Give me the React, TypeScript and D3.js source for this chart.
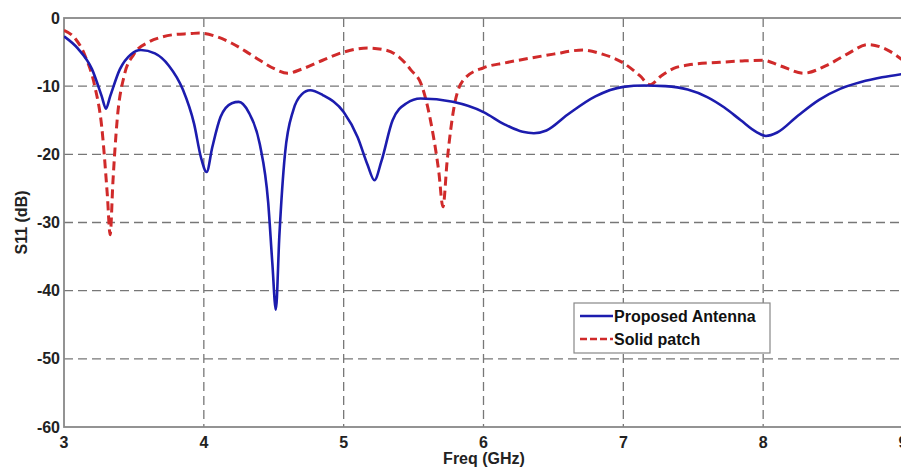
import { useEffect, useRef } from 'react'
import * as d3 from 'd3'

// Proposed antenna: frequency (GHz) and S11 (dB)
const propFreq = [
  3.0, 3.1, 3.2, 3.27, 3.3, 3.33, 3.4, 3.48, 3.55, 3.65, 3.75, 3.85, 3.93, 3.98, 4.02, 4.06,
  4.12, 4.2, 4.25, 4.32, 4.4, 4.46, 4.49, 4.515, 4.54, 4.58, 4.64, 4.7, 4.76, 4.85, 5.0, 5.1,
  5.17, 5.22, 5.27, 5.35, 5.45, 5.55, 5.78, 6.0, 6.15, 6.28, 6.36, 6.45, 6.6, 6.8, 7.0, 7.15,
  7.3, 7.46, 7.6, 7.72, 7.84, 7.95, 8.02, 8.1, 8.25, 8.4, 8.55, 8.7, 8.85, 9.0,
]
const propS11 = [
  -2.7, -4.5, -7.5, -11.5, -13.3, -11.5, -7.5, -5.3, -4.7, -5.2, -7.0, -10.5, -15.5, -20.5,
  -22.6, -19, -14.5, -12.5, -12.3, -13.8, -18.5, -27, -36, -42.8, -32, -20, -13.5, -11.2,
  -10.6, -11.3, -13.8, -17.5, -21.5, -23.8, -21, -15, -12.5, -11.8, -12.3, -13.8, -15.6,
  -16.7, -16.9, -16.5, -14.2, -11.5, -10.1, -9.9, -10.0, -10.5, -11.6, -13.1, -15.0, -16.7,
  -17.3, -16.8, -14.3, -12, -10.4, -9.4, -8.7, -8.2,
]

// Solid patch: frequency (GHz) and S11 (dB)
const solidFreq = [
  3.0, 3.08, 3.15, 3.22, 3.27, 3.31, 3.33, 3.35, 3.38, 3.43, 3.5, 3.6, 3.7, 3.8, 3.9, 3.97,
  4.1, 4.2, 4.3, 4.4, 4.5, 4.6, 4.7, 4.85, 5.0, 5.17, 5.3, 5.4, 5.48, 5.56, 5.63, 5.68, 5.71,
  5.74, 5.79, 5.86, 6.0, 6.15, 6.33, 6.5, 6.71, 6.85, 7.0, 7.12, 7.19, 7.27, 7.36, 7.46, 7.69,
  7.85, 8.0, 8.12, 8.29, 8.45, 8.6, 8.75, 8.88, 9.0,
]
const solidS11 = [
  -1.8, -3, -5.5, -10, -16, -26, -31.8, -24, -15, -8.5, -5.3, -3.6, -2.8, -2.4, -2.3, -2.2,
  -2.8, -3.7, -4.9, -6.2, -7.4, -8.1, -7.5, -6.2, -5.0, -4.4, -4.7, -5.8, -7.6, -10, -16,
  -22.5, -27.7, -21, -13, -9, -7.3, -6.6, -5.9, -5.3, -4.7, -5.3, -6.6, -8.5, -9.8, -8.5,
  -7.4, -6.9, -6.5, -6.3, -6.2, -7.0, -8.1, -7.0, -5.3, -3.9, -4.6, -6.2,
]

const xTicks = [3, 4, 5, 6, 7, 8, 9]
const yTicks = [0, -10, -20, -30, -40, -50, -60]
const legendLabels = ['Proposed Antenna', 'Solid patch']

const W = 901
const H = 470
const FONT = '"Liberation Sans", Arial, sans-serif'
const BLUE = '#1c1cae'
const RED = '#d02a2a'

export default function App() {
  const ref = useRef<SVGSVGElement | null>(null)

  useEffect(() => {
    if (!ref.current) return
    const svg = d3.select(ref.current)
    svg.selectAll('*').remove()

    const left = 64
    const top = 18
    const right = 903
    const bottom = 427

    const x = d3.scaleLinear().domain([3, 9]).range([left, right])
    const y = d3.scaleLinear().domain([-60, 0]).range([bottom, top])

    svg.append('rect').attr('width', W).attr('height', H).attr('fill', '#fff')

    svg
      .append('clipPath')
      .attr('id', 'plot-clip')
      .append('rect')
      .attr('x', left)
      .attr('y', top)
      .attr('width', right - left)
      .attr('height', bottom - top)

    // grid
    const grid = svg.append('g').attr('stroke', '#777').attr('stroke-width', 1.3).attr('stroke-dasharray', '9,5')
    grid
      .selectAll('line.gx')
      .data(xTicks.slice(1, -1))
      .join('line')
      .attr('x1', (d) => x(d))
      .attr('x2', (d) => x(d))
      .attr('y1', top)
      .attr('y2', bottom)
    grid
      .selectAll('line.gy')
      .data(yTicks.slice(1, -1))
      .join('line')
      .attr('x1', left)
      .attr('x2', right)
      .attr('y1', (d) => y(d))
      .attr('y2', (d) => y(d))

    // frame
    svg
      .append('rect')
      .attr('x', left)
      .attr('y', top)
      .attr('width', right - left)
      .attr('height', bottom - top)
      .attr('fill', 'none')
      .attr('stroke', '#888')
      .attr('stroke-width', 1.8)

    // tick labels
    svg
      .append('g')
      .selectAll('text')
      .data(yTicks)
      .join('text')
      .attr('x', left - 4)
      .attr('y', (d) => y(d))
      .attr('dy', '0.35em')
      .attr('text-anchor', 'end')
      .style('font', `bold 16px ${FONT}`)
      .attr('fill', '#222')
      .text((d) => d)
    svg
      .append('g')
      .selectAll('text')
      .data(xTicks)
      .join('text')
      .attr('x', (d) => x(d))
      .attr('y', bottom + 21)
      .attr('text-anchor', 'middle')
      .style('font', `bold 16px ${FONT}`)
      .attr('fill', '#222')
      .text((d) => d)

    svg
      .append('text')
      .attr('x', 484)
      .attr('y', 464)
      .attr('text-anchor', 'middle')
      .style('font', `bold 16px ${FONT}`)
      .attr('fill', '#222')
      .text('Freq (GHz)')
    svg
      .append('text')
      .attr('transform', `translate(27,${(top + bottom) / 2}) rotate(-90)`)
      .attr('text-anchor', 'middle')
      .style('font', `bold 16px ${FONT}`)
      .attr('fill', '#222')
      .text('S11 (dB)')

    const line = d3
      .line<[number, number]>()
      .x((d) => x(d[0]))
      .y((d) => y(d[1]))
      .curve(d3.curveMonotoneX)

    const plot = svg.append('g').attr('clip-path', 'url(#plot-clip)')
    plot
      .append('path')
      .attr('d', line(solidFreq.map((f, i) => [f, solidS11[i]] as [number, number])))
      .attr('fill', 'none')
      .attr('stroke', RED)
      .attr('stroke-width', 3)
      .attr('stroke-dasharray', '9,5')
    plot
      .append('path')
      .attr('d', line(propFreq.map((f, i) => [f, propS11[i]] as [number, number])))
      .attr('fill', 'none')
      .attr('stroke', BLUE)
      .attr('stroke-width', 2.6)

    // legend
    const lg = svg.append('g').attr('transform', 'translate(574,303)')
    lg.append('rect')
      .attr('width', 196)
      .attr('height', 50)
      .attr('fill', '#fff')
      .attr('stroke', '#888')
      .attr('stroke-width', 1.2)
    const styles = [
      { color: BLUE, dash: null },
      { color: RED, dash: '7,3' },
    ]
    legendLabels.forEach((label, i) => {
      const yy = 13 + i * 23
      lg.append('line')
        .attr('x1', 6)
        .attr('x2', 39)
        .attr('y1', yy)
        .attr('y2', yy)
        .attr('stroke', styles[i].color)
        .attr('stroke-width', 2.6)
        .attr('stroke-dasharray', styles[i].dash)
      lg.append('text')
        .attr('x', 40)
        .attr('y', yy)
        .attr('dy', '0.35em')
        .style('font', `bold 16px ${FONT}`)
        .attr('fill', '#111')
        .text(label)
    })
  }, [])

  return (
    <svg
      ref={ref}
      width={W}
      height={H}
      style={{ position: 'fixed', left: 0, top: 0, display: 'block' }}
    />
  )
}
